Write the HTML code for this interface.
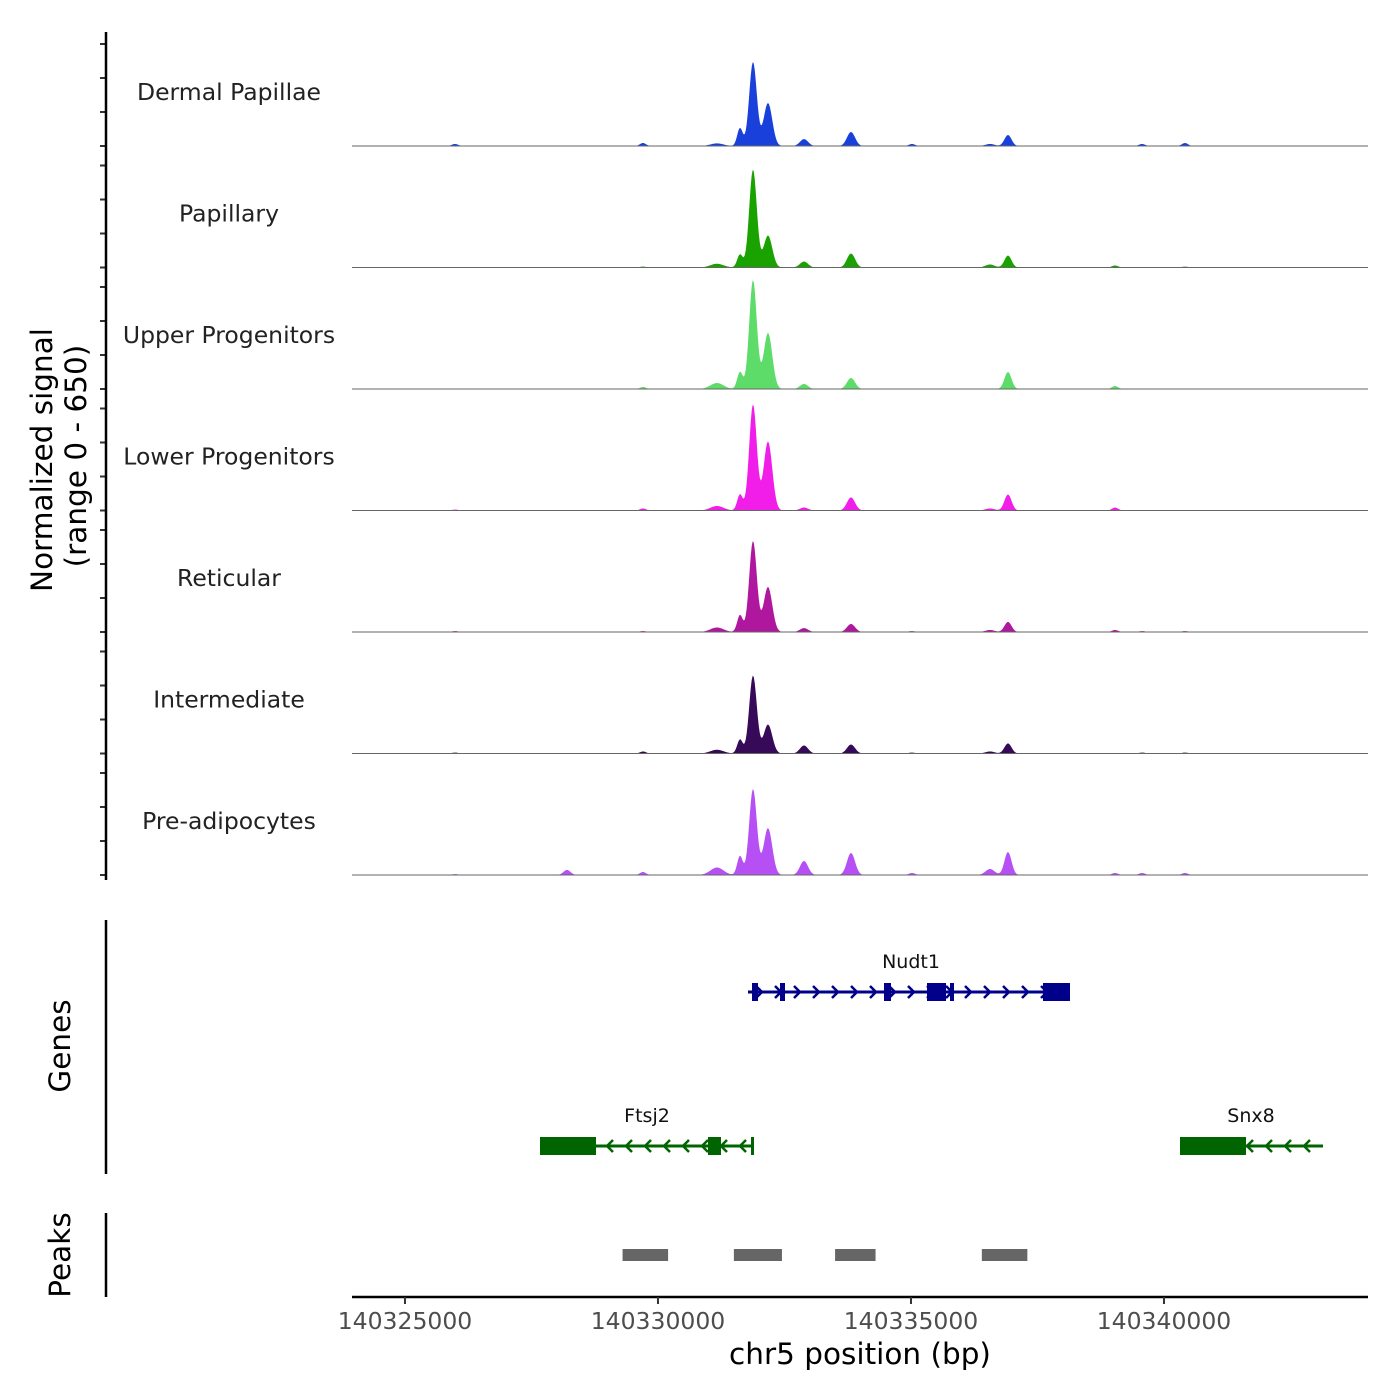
<!DOCTYPE html>
<html><head><meta charset="utf-8"><style>
html,body{margin:0;padding:0;background:#fff}
svg{display:block;font-family:"DejaVu Sans","Liberation Sans",sans-serif}
</style></head><body>
<svg id="chart" width="1400" height="1400" viewBox="0 0 1400 1400" xmlns="http://www.w3.org/2000/svg">
<g id="tracks"></g>
<g id="genes"></g>
<g id="peaks"></g>
<g id="axes"></g>
</svg>
<script>
const trackNames = ["Dermal Papillae","Papillary","Upper Progenitors","Lower Progenitors","Reticular","Intermediate","Pre-adipocytes"];
const trackColors = ["#1a40dc","#1aa300","#5ddc6a","#f01ee8","#b0179f","#360a58","#b650f5"];
const peakCenters = [140325989,140328202,140329704,140331166,140331621,140331878,140332174,140332886,140333815,140335020,140336562,140336917,140339032,140339566,140340415];
const peakWidths = [60,70,60,130,55,75,85,80,80,60,90,70,60,60,60];
const signalDermal = [11,0,16,14,96,449,230,37,75,11,11,59,0,11,16];
const signalPapillary = [0,0,5,20,70,524,171,32,75,0,16,64,11,0,5];
const signalUpper = [0,0,11,32,91,583,300,27,59,0,0,91,16,0,0];
const signalLower = [5,0,11,24,86,567,369,16,70,0,11,86,16,0,0];
const signalReticular = [5,0,5,24,91,487,241,21,43,5,11,54,11,5,5];
const signalIntermediate = [5,0,11,20,75,417,155,43,48,5,11,54,0,5,5];
const signalPreadipo = [5,27,16,40,102,460,251,75,118,11,32,123,11,11,11];
const trackSignals = [signalDermal,signalPapillary,signalUpper,signalLower,signalReticular,signalIntermediate,signalPreadipo];
const xTicks = [140325000,140330000,140335000,140340000];
const peakStarts = [140329300,140331500,140333500,140336400];
const peakEnds = [140330200,140332450,140334300,140337300];

const NS="http://www.w3.org/2000/svg";
const X0=352,X1=1368,BP0=140323953,BP1=140344032;
const xs=bp=>X0+(bp-BP0)/(BP1-BP0)*(X1-X0);
const TRACK_H=121.5,BASE0=146,RANGE=650;
const ys=(i,v)=>BASE0+i*TRACK_H-v/RANGE*TRACK_H;
function mk(tag,attrs,parent,text){const e=document.createElementNS(NS,tag);for(const k in attrs)e.setAttribute(k,attrs[k]);if(text!==undefined)e.textContent=text;parent.appendChild(e);return e;}

const gT=document.getElementById('tracks');
trackSignals.forEach((sig,i)=>{
  let d=`M${X0},${ys(i,0)}`;
  for(let bp=BP0;bp<=BP1;bp+=20){
    let v=0;
    for(let k=0;k<peakCenters.length;k++){const z=(bp-peakCenters[k])/peakWidths[k];v+=sig[k]*Math.exp(-0.5*z*z);}
    d+=`L${xs(bp).toFixed(2)},${ys(i,v).toFixed(2)}`;
  }
  d+=`L${X1},${ys(i,0)}Z`;
  const p=mk('path',{d:d,fill:trackColors[i]},gT);
  
  
  const bl=mk('line',{x1:X0,x2:X1,y1:ys(i,0),y2:ys(i,0),stroke:'#666','stroke-width':1},gT);
  
  
  const lb=mk('text',{x:229,y:ys(i,0)-46,'text-anchor':'middle','font-size':23.5,fill:'#222'},gT,trackNames[i]);
  
  
  for(let k=0;k<4;k++){const t=mk('line',{x1:100,x2:106,y1:ys(i,0)-34*k,y2:ys(i,0)-34*k,stroke:'#333','stroke-width':2},gT);
    
    }
});

// genes
const gG=document.getElementById('genes');
function gene(name,y,x1,x2,dir,exons,color,lx){
  const g=mk('g',{},gG);
  
  
  mk('line',{x1:x1,x2:x2,y1:y,y2:y,stroke:color,'stroke-width':3},g);
  for(let x=x1+12;x<x2-6;x+=19){
    const a=dir>0?`M${x-4},${y-6}L${x+2},${y}L${x-4},${y+6}`:`M${x+4},${y-6}L${x-2},${y}L${x+4},${y+6}`;
    mk('path',{d:a,stroke:color,'stroke-width':2.5,fill:'none'},g);
  }
  exons.forEach(e=>mk('rect',{x:e[0],y:y-e[2]/2,width:e[1]-e[0],height:e[2],fill:color},g));
  mk('text',{x:lx,y:y-24,'text-anchor':'middle','font-size':19,fill:'#111'},g,name);
}
gene('Nudt1',992,748,1070,1,[[752,758,18],[780,785,18],[884,891,18],[927,946,18],[950,954,18],[1043,1070,18]],'#00008b',911);
gene('Ftsj2',1146,540,753,-1,[[540,596,18],[708,721,18],[751,754,18]],'#006400',647);
gene('Snx8',1146,1180,1323,-1,[[1180,1246,18]],'#006400',1251);

// peaks
const gP=document.getElementById('peaks');
peakStarts.forEach((s,i)=>{const r=mk('rect',{x:xs(s),y:1249,width:xs(peakEnds[i])-xs(s),height:12,fill:'#666'},gP);
  
  });

// axes
const gA=document.getElementById('axes');
const ax=[[106,32,106,880,'y-axis-line'],[106,920,106,1174,'genes-axis-line'],[106,1213,106,1297,'peaks-axis-line'],[352,1297,1368,1297,'x-axis-line']];
ax.forEach(a=>{const l=mk('line',{x1:a[0],y1:a[1],x2:a[2],y2:a[3],stroke:'#000','stroke-width':2.5},gA);
  
  });
xTicks.forEach(t=>{
  const l=mk('line',{x1:xs(t),x2:xs(t),y1:1297,y2:1304,stroke:'#333','stroke-width':2},gA);
  
  
  const tx=mk('text',{x:xs(t),y:1329,'text-anchor':'middle','font-size':23.5,fill:'#4d4d4d'},gA,String(t));
  
  
});
const xt=mk('text',{x:860,y:1364,'text-anchor':'middle','font-size':29.5,fill:'#000'},gA,'chr5 position (bp)');


const yt=mk('text',{transform:'translate(52,460) rotate(-90)','text-anchor':'middle','font-size':29.5,fill:'#000'},gA,'Normalized signal');


const yt2=mk('text',{transform:'translate(86,456) rotate(-90)','text-anchor':'middle','font-size':29.5,fill:'#000'},gA,'(range 0 - 650)');


const gt=mk('text',{transform:'translate(70,1046) rotate(-90)','text-anchor':'middle','font-size':29.5,fill:'#000'},gA,'Genes');


const pt=mk('text',{transform:'translate(70,1255) rotate(-90)','text-anchor':'middle','font-size':29.5,fill:'#000'},gA,'Peaks');


</script>
</body></html>
